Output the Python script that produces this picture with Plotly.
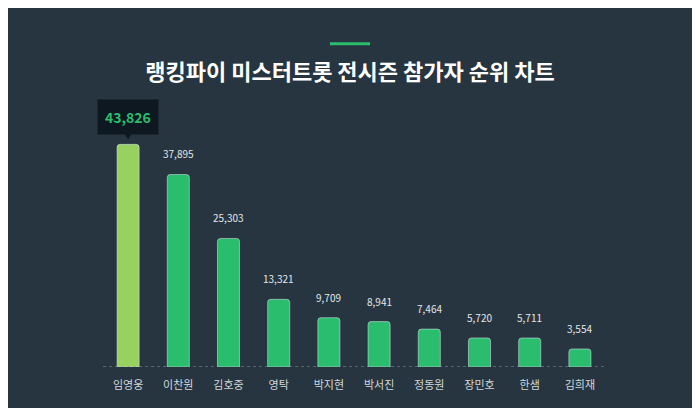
import plotly.graph_objects as go

names = ["임영웅", "이찬원", "김호중", "영탁", "박지현", "박서진", "정동원", "장민호", "한샘", "김희재"]
votes = [43826, 37895, 25303, 13321, 9709, 8941, 7464, 5720, 5711, 3554]

TITLE = "랭킹파이 미스터트롯 전시즌 참가자 순위 차트"
BG = "#263540"
GREEN = "#2bbd6e"
TOP = "#97d160"
FONT = "Noto Sans CJK KR"

colors = [TOP] + [GREEN] * (len(names) - 1)

fig = go.Figure(go.Bar(x=names, y=votes, marker=dict(color=colors, cornerradius=3),
                       width=0.44, hoverinfo="skip"))

# value labels above each bar (the first gets the highlight box instead)
for n, v in zip(names[1:], votes[1:]):
    fig.add_annotation(x=n, y=v, text=f"{v:,}", showarrow=False, yanchor="bottom", yshift=11,
                       font=dict(family=FONT, size=10, color="#e4e8ea"))

fig.add_annotation(x=names[0], y=votes[0], text=f"<b>{votes[0]:,}</b>", showarrow=False,
                   yanchor="bottom", yshift=9, bgcolor="#0d1820", borderpad=7,
                   font=dict(family=FONT, size=14, color=GREEN))
fig.add_annotation(x=names[0], y=votes[0], text="▼", showarrow=False, yanchor="bottom",
                   yshift=1, font=dict(family=FONT, size=8, color="#0d1820"))

# dotted baseline
fig.add_shape(type="line", xref="paper", yref="y", x0=0, x1=1, y0=0, y1=0,
              line=dict(color="#8d979d", width=1.2, dash="dot"))
# green accent above title
fig.add_shape(type="line", xref="paper", yref="paper", x0=0.452, x1=0.532, y0=1.273, y1=1.273,
              line=dict(color=GREEN, width=3))

fig.update_layout(
    width=684, height=400,
    margin=dict(l=95, r=87, t=104.5, b=41),
    paper_bgcolor=BG, plot_bgcolor=BG,
    showlegend=False,
    title=dict(text=TITLE, x=0.5, xanchor="center", y=0.84, yanchor="middle",
               font=dict(family=FONT, size=22, color="white", weight="bold")),
    xaxis=dict(range=[-0.5, 9.5], showgrid=False, showline=False, zeroline=False, ticks="",
               tickfont=dict(family=FONT, size=11, color="#d3d8db"), ticklabelstandoff=10),
    yaxis=dict(range=[0, 50000], visible=False, showgrid=False),
)

fig.write_html("out.html")
